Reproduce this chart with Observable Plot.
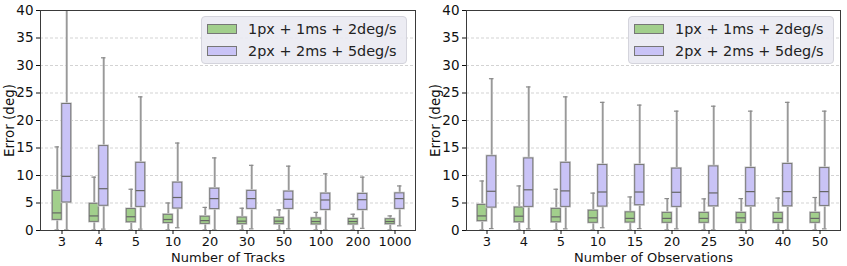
<!DOCTYPE html>
<html>
<head>
<meta charset="utf-8">
<script src="https://cdn.jsdelivr.net/npm/d3@7"></script>
<script src="https://cdn.jsdelivr.net/npm/@observablehq/plot@0.6"></script>
<style>
  html, body { margin: 0; padding: 0; background: #fff; }
  #wrap { display: flex; width: 847px; height: 266px; }
  .panel { position: relative; }
  .legend { position: absolute; top: 16px; height: 48px; width: 206px; box-sizing: border-box;
    background: rgba(234,234,242,0.9); border: 1px solid #d4d4dc; border-radius: 4px;
    font-family: "DejaVu Sans", sans-serif; font-size: 14.4px; color: #222; }
  .legend .row { position: absolute; left: 5px; height: 20px; display: flex; align-items: center; white-space: nowrap; }
  .legend .sw { width: 30px; height: 10px; box-sizing: border-box; border: 1px solid #777; margin-right: 11px; }
</style>
</head>
<body>
<div id="wrap"></div>
<script>
// ---- data ----
const seriesNames = ["1px + 1ms + 2deg/s", "2px + 2ms + 5deg/s"];
const seriesColors = ["#a2cf8c", "#c9c3f6"];

const trackCats = ["3","4","5","10","20","30","50","100","200","1000"];
const tracksALo  = [0.1,0.1,0.1,0.1,0.1,0.1,0.1,0.1,0.1,0.1];
const tracksAQ1  = [1.93,1.57,1.5,1.35,1.2,1.15,1.15,1.1,1.1,1.15];
const tracksAMed = [3.2,2.65,2.5,2.0,1.8,1.7,1.7,1.63,1.63,1.63];
const tracksAQ3  = [7.2,4.85,3.9,2.85,2.5,2.35,2.3,2.2,2.1,2.05];
const tracksAHi  = [15.2,9.7,7.5,5.0,4.2,4.05,3.75,3.3,2.96,2.65];
const tracksBLo  = [0.1,0.25,0.25,0.5,0.1,0.3,0.3,0.1,0.4,0.85];
const tracksBQ1  = [5.1,4.5,4.3,4.0,3.9,3.93,3.93,3.75,3.75,3.93];
const tracksBMed = [9.85,7.6,7.25,6.0,5.8,5.8,5.68,5.55,5.6,5.8];
const tracksBQ3  = [23.0,15.35,12.3,8.7,7.6,7.2,7.07,6.7,6.65,6.75];
const tracksBHi  = [45,31.4,24.3,15.9,13.2,11.85,11.7,10.3,9.7,8.1];

const obsCats = ["3","4","5","10","15","20","25","30","40","50"];
const obsALo  = [0.1,0.1,0.1,0.1,0.1,0.1,0.1,0.1,0.1,0.1];
const obsAQ1  = [1.7,1.5,1.5,1.4,1.45,1.4,1.4,1.4,1.4,1.4];
const obsAMed = [2.65,2.6,2.48,2.3,2.2,2.2,2.2,2.3,2.2,2.2];
const obsAQ3  = [4.65,4.17,3.93,3.6,3.3,3.2,3.2,3.2,3.2,3.2];
const obsAHi  = [9.0,8.1,7.5,6.8,6.1,5.8,5.75,5.8,5.9,6.0];
const obsBLo  = [0.35,0.3,0.3,0.5,0.35,0.3,0.1,0.1,0.1,0.3];
const obsBQ1  = [4.17,4.3,4.3,4.35,4.6,4.3,4.4,4.4,4.4,4.47];
const obsBMed = [7.13,7.4,7.2,7.0,7.0,6.95,6.83,7.07,7.07,7.07];
const obsBQ3  = [13.5,13.1,12.3,11.9,11.9,11.25,11.65,11.35,12.1,11.35];
const obsBHi  = [27.6,26.1,24.3,23.3,22.8,21.7,22.6,21.7,23.3,21.7];

const yTicks = [0,5,10,15,20,25,30,35,40];

function rowsFor(cats, lo, q1, med, q3, hi) {
  return cats.map((c, i) => ({cat: c, lo: lo[i], q1: q1[i], med: med[i], q3: q3[i], hi: hi[i]}));
}

function panel({cats, A, B, xLabel, width, ml, mr, legendLeft}) {
  const mt = 10, mb = 36, height = 266;
  const bw = (width - ml - mr) / cats.length;
  const boxW = 9.5, capW = 5;
  const marks = [
    Plot.gridY(yTicks.filter(d => d > 0 && d < 40), {stroke: "#c8c8c8", strokeOpacity: 1, strokeDasharray: "3,2", strokeWidth: 0.8})
  ];
  [A, B].forEach((rows, k) => {
    const sgn = k === 0 ? -1 : 1;
    const off = sgn * boxW / 2;
    const boxInL = k === 0 ? bw / 2 - boxW : bw / 2;
    const boxInR = k === 0 ? bw / 2 : bw / 2 - boxW;
    const capInL = bw / 2 + off - capW / 2;
    const capInR = bw / 2 - off - capW / 2;
    marks.push(
      Plot.ruleX(rows, {x: "cat", y1: "lo", y2: "hi", dx: off, stroke: "#c8c8c8", strokeWidth: 2.4, clip: true}),
      Plot.ruleX(rows, {x: "cat", y1: "lo", y2: "hi", dx: off, stroke: "#8a8a8a", strokeWidth: 1, clip: true}),
      Plot.tickY(rows, {x: "cat", y: "hi", insetLeft: capInL, insetRight: capInR, stroke: "#8a8a8a", strokeWidth: 1.2, clip: true}),
      Plot.tickY(rows, {x: "cat", y: "lo", insetLeft: capInL, insetRight: capInR, stroke: "#8a8a8a", strokeWidth: 1.2, clip: true}),
      Plot.barY(rows, {x: "cat", y1: "q1", y2: "q3", insetLeft: boxInL, insetRight: boxInR, fill: seriesColors[k], stroke: "#d0d0d0", strokeWidth: 2.4}),
      Plot.barY(rows, {x: "cat", y1: "q1", y2: "q3", insetLeft: boxInL, insetRight: boxInR, fill: seriesColors[k], stroke: "#777", strokeWidth: 1}),
      Plot.tickY(rows, {x: "cat", y: "med", insetLeft: boxInL, insetRight: boxInR, stroke: "#666", strokeWidth: 1.2})
    );
  });
  marks.push(
    Plot.frame({stroke: "#3a3a3a", strokeWidth: 1}),
    Plot.axisY({ticks: yTicks, tickSize: 4, tickPadding: 3, label: "Error (deg)", labelAnchor: "center", labelArrow: "none", labelOffset: 36, fill: "#111", fontSize: "13.5px"}),
    Plot.axisX({tickSize: 4, tickPadding: 2, label: xLabel, labelAnchor: "center", labelArrow: "none", labelOffset: 31, fill: "#111", fontSize: "13px"})
  );
  const svg = Plot.plot({
    width, height,
    marginLeft: ml, marginRight: mr, marginTop: mt, marginBottom: mb,
    style: {fontFamily: "DejaVu Sans, sans-serif", fontSize: "13px", color: "#111", background: "#fff"},
    x: {type: "band", domain: cats, padding: 0},
    y: {domain: [0, 40]},
    marks
  });
  const div = document.createElement("div");
  div.className = "panel";
  div.style.width = width + "px";
  div.appendChild(svg);
  const leg = document.createElement("div");
  leg.className = "legend";
  leg.style.left = legendLeft + "px";
  seriesNames.forEach((name, k) => {
    const row = document.createElement("div");
    row.className = "row";
    row.style.top = (k === 0 ? 2 : 24) + "px";
    const sw = document.createElement("div");
    sw.className = "sw";
    sw.style.background = seriesColors[k];
    const tx = document.createElement("span");
    tx.textContent = name;
    row.appendChild(sw); row.appendChild(tx);
    leg.appendChild(row);
  });
  div.appendChild(leg);
  return div;
}

const wrap = document.getElementById("wrap");
wrap.appendChild(panel({
  cats: trackCats,
  A: rowsFor(trackCats, tracksALo, tracksAQ1, tracksAMed, tracksAQ3, tracksAHi),
  B: rowsFor(trackCats, tracksBLo, tracksBQ1, tracksBMed, tracksBQ3, tracksBHi),
  xLabel: "Number of Tracks", width: 420, ml: 40, mr: 5, legendLeft: 201
}));
wrap.appendChild(panel({
  cats: obsCats,
  A: rowsFor(obsCats, obsALo, obsAQ1, obsAMed, obsAQ3, obsAHi),
  B: rowsFor(obsCats, obsBLo, obsBQ1, obsBMed, obsBQ3, obsBHi),
  xLabel: "Number of Observations", width: 427, ml: 46, mr: 7, legendLeft: 208
}));
</script>
</body>
</html>
